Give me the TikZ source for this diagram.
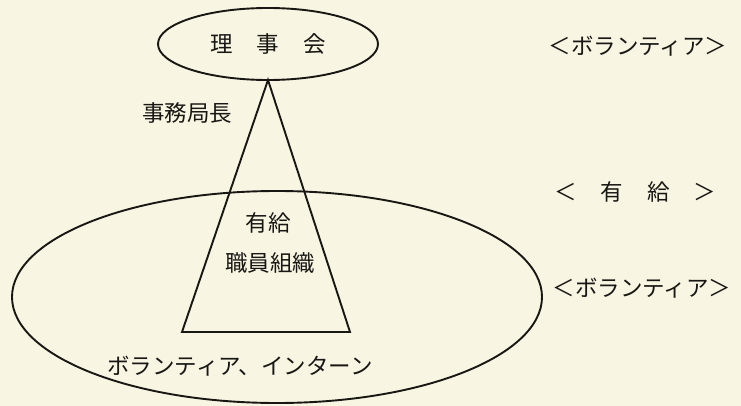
\documentclass[tikz,border=0pt]{standalone}
\usepackage{fontspec}
\setmainfont{Noto Sans CJK JP}
\usetikzlibrary{shapes.geometric}
\definecolor{paper}{RGB}{248,245,226}
\definecolor{ink}{RGB}{25,23,20}
\tikzset{
  outline/.style={draw=ink, line width=1.9pt},
  oval/.style={outline, ellipse, inner sep=0pt, outer sep=0pt},
  label/.style={text=ink, inner sep=0pt, font=\fontsize{22.5}{26}\selectfont},
}
\begin{document}
\begin{tikzpicture}[x=1pt, y=-1pt]
  \fill[paper] (0,0) rectangle (741,406);
  \useasboundingbox (0,0) rectangle (741,406);
  % outer ellipse (volunteers, interns)
  \node[oval, minimum width=530pt, minimum height=212pt] (field) at (277,297) {};
  % board ellipse
  \node[oval, minimum width=220pt, minimum height=72pt] (board) at (268,44) {};
  \node[label] (boardtext) at (268,44) {理\hspace{24pt}事\hspace{24pt}会};
  % triangle (paid staff organisation)
  \coordinate (apex) at (board.south);
  \coordinate (baseL) at (182,332);
  \coordinate (baseR) at (350,332);
  \draw[outline, line join=miter] (apex) -- (baseL) -- (baseR) -- cycle;
  % labels
  \node[label] (director) at (187,113) {事務局長};
  \node[label] (paid1) at (268,223) {有給};
  \node[label] (paid2) at (270,263) {職員組織};
  \node[label] (vol) at (240,366) {ボランティア、インターン};
  \node[label] (rvol1) at (638,46) {＜ボランティア＞};
  \node[label] (rpaid) at (635,192) {＜\hspace{24pt}有\hspace{24pt}給\hspace{24pt}＞};
  \node[label] (rvol2) at (642,288) {＜ボランティア＞};
\end{tikzpicture}
\end{document}
